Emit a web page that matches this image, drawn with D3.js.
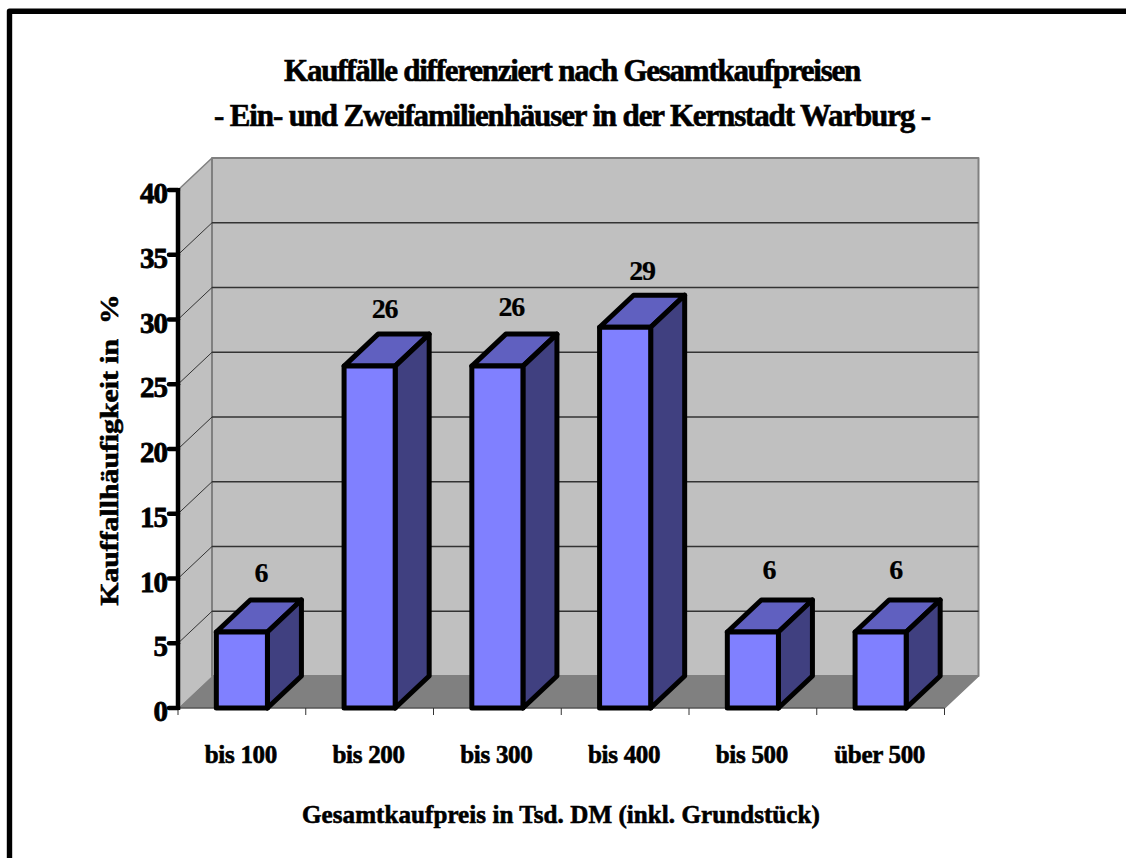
<!DOCTYPE html>
<html><head><meta charset="utf-8">
<script src="https://cdn.jsdelivr.net/npm/d3@7/dist/d3.min.js"></script>
<style>html,body{margin:0;padding:0;background:#fff}svg{display:block}
text{font-family:"Liberation Serif",serif;font-weight:bold;fill:#000;stroke:#000;white-space:pre}</style></head>
<body><svg id="c" width="1126" height="858"></svg>
<script>
const categories=["bis 100","bis 200","bis 300","bis 400","bis 500","über 500"];
const values=[5.87,26.4,26.4,29.4,5.87,5.87];
const yTicks=[0,5,10,15,20,25,30,35,40];
const titleLines=["Kauffälle differenziert nach Gesamtkaufpreisen","- Ein- und Zweifamilienhäuser in der Kernstadt Warburg -"];
const xTitle="Gesamtkaufpreis in Tsd. DM (inkl. Grundstück)";
const yTitle="Kauffallhäufigkeit in  %";
const labelNudgeX=[-1,-5,-6,-3,-4,-5];
const labelNudgeY=[-1,1,-1,2,-4,-4];

const svg=d3.select("#c");
const x0=178,x1=944.5,y0=708,y40=190,dx=34,dy=32;
const x=d3.scaleBand().domain(categories).range([x0,x1]).paddingInner(0.6).paddingOuter(0.3);
const xb=d3.scaleBand().domain(categories).range([x0,x1]);
const y=d3.scaleLinear().domain([0,40]).range([y0,y40]);
const poly=(pts,fill,stroke,sw)=>svg.append("polygon").attr("points",pts.map(p=>p.join(",")).join(" ")).attr("fill",fill).attr("stroke",stroke||"none").attr("stroke-width",sw||0).attr("stroke-linejoin","round");

// frame
svg.append("path").attr("d","M9.5,858V11.3H1126").attr("fill","none").attr("stroke","#000").attr("stroke-width",5.4).attr("stroke-linejoin","round");

// walls
poly([[x0,y0],[x0+dx,y0-dy],[x0+dx,y40-dy],[x0,y40]],"#c0c0c0");
poly([[x0+dx,y0-dy],[x1+dx,y0-dy],[x1+dx,y40-dy],[x0+dx,y40-dy]],"#c0c0c0","#808080",2);
poly([[x0,y0],[x1,y0],[x1+dx,y0-dy],[x0+dx,y0-dy]],"#808080");
svg.append("path").attr("d",`M${x0},${y40}L${x0+dx},${y40-dy}M${x1},${y0}L${x1+dx},${y0-dy}`).attr("stroke","#808080").attr("stroke-width",1.5).attr("fill","none");

// gridlines
yTicks.filter(t=>t>0&&t<40).forEach(t=>{
  svg.append("path").attr("d",`M${x0},${y(t)}L${x0+dx},${y(t)-dy}`).attr("stroke","#333").attr("stroke-width",1).attr("fill","none");
  svg.append("line").attr("x1",x0+dx).attr("x2",x1+dx).attr("y1",y(t)-dy).attr("y2",y(t)-dy).attr("stroke","#333").attr("stroke-width",1.3);
});

// x ticks
svg.append("line").attr("x1",x0).attr("x2",x1).attr("y1",y0).attr("y2",y0).attr("stroke","#555").attr("stroke-width",1.5);
[...categories.map(c=>xb(c)),x1].forEach(t=>{
  svg.append("line").attr("x1",t).attr("x2",t).attr("y1",y0).attr("y2",y0+7).attr("stroke","#333").attr("stroke-width",1);
});

// y axis
svg.append("line").attr("x1",x0).attr("x2",x0).attr("y1",y40-2).attr("y2",y0+2).attr("stroke","#000").attr("stroke-width",4.5);
yTicks.forEach(t=>{
  svg.append("line").attr("x1",x0-9).attr("x2",x0).attr("y1",y(t)).attr("y2",y(t)).attr("stroke","#000").attr("stroke-width",4.5).attr("stroke-linecap","round");
  svg.append("text").attr("x",x0-11).attr("y",y(t)+13).attr("text-anchor","end").attr("font-size",29).attr("letter-spacing",-1).attr("stroke-width",0.8).text(t);
});

// bars
categories.forEach((c,i)=>{
  const l=x(c),r=l+x.bandwidth(),t=y(values[i]),b=y0;
  const lw=5;
  poly([[l,t],[r,t],[r+dx,t-dy],[l+dx,t-dy]],"#6060c0","#000",lw);
  poly([[r,t],[r+dx,t-dy],[r+dx,b-dy],[r,b]],"#404080","#000",lw);
  poly([[l,t],[r,t],[r,b],[l,b]],"#8080ff","#000",lw);
  svg.append("text").attr("x",(l+r)/2+20+labelNudgeX[i]).attr("y",t-49+labelNudgeY[i]).attr("text-anchor","middle").attr("font-size",28).attr("letter-spacing",-1.2).attr("stroke-width",0.2).text(d3.format(".0f")(values[i]));
  svg.append("text").attr("x",(l+r)/2-1).attr("y",763).attr("text-anchor","middle").attr("font-size",25).attr("letter-spacing",-0.3).attr("stroke-width",0.6).text(c);
});

// titles
[81,126].forEach((yy,i)=>{
  svg.append("text").attr("x",572).attr("y",yy).attr("text-anchor","middle").attr("font-size",31).attr("letter-spacing",i?-1.15:-1.25).attr("stroke-width",0.6).text(titleLines[i]);
});
svg.append("text").attr("x",561).attr("y",823).attr("text-anchor","middle").attr("font-size",25).attr("letter-spacing",0.08).attr("stroke-width",0.6).text(xTitle);
svg.append("text").attr("transform","translate(118,450) rotate(-90) scale(1.19,1)").attr("text-anchor","middle").attr("font-size",25).attr("stroke-width",0.6).text(yTitle);
</script></body></html>
